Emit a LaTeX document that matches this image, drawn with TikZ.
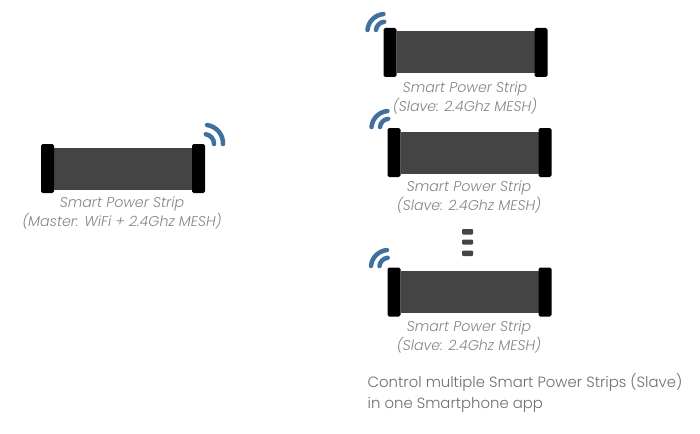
\documentclass[tikz,border=0pt]{standalone}
\usepackage{fontspec}
\setmainfont{Poppins}[UprightFont={* Light},ItalicFont={* Light Italic},BoldFont={* Medium}]
\definecolor{bodygrey}{HTML}{444444}
\definecolor{wifiblue}{HTML}{41709F}
\definecolor{capgrey}{HTML}{858585}
\definecolor{txtgrey}{HTML}{6E6E6E}
\tikzset{
  stripbody/.style={fill=bodygrey,draw=none},
  stripcap/.style={fill=black,draw=none,rounded corners=1.6pt},
  wifiarc/.style={draw=wifiblue,line width=4.5pt,line cap=round},
  dotbar/.style={fill=bodygrey,draw=none,rounded corners=1pt},
  striplabel/.style={font=\itshape\fontsize{14.2}{19}\selectfont,text=capgrey,align=center,inner sep=0pt},
  infolabel/.style={font=\fontsize{14.85}{21}\selectfont,text=txtgrey,align=left,inner sep=0pt,anchor=north west},
}
% #1 left x, #2 top y of the caps
\newcommand{\stripshape}[2]{%
  \fill[stripbody] (#1+13,#2+3.5) rectangle (#1+152,#2+45.5);
  \fill[stripcap] (#1,#2) rectangle (#1+13,#2+49);
  \fill[stripcap] (#1+151,#2) rectangle (#1+164,#2+49);
}
% slave signal, #1,#2 = centre of the arcs
\newcommand{\wifileft}[2]{%
  \draw[wifiarc] (#1-17.5,#2) arc[start angle=-175,end angle=-95,radius=17.5];
  \draw[wifiarc] (#1-9,#2) arc[start angle=-175,end angle=-95,radius=9];
}
\newcommand{\wifiright}[2]{%
  \draw[wifiarc] (#1+18.5,#2) arc[start angle=2,end angle=-82,radius=18.5];
  \draw[wifiarc] (#1+9.5,#2) arc[start angle=2,end angle=-82,radius=9.5];
}
\begin{document}
\begin{tikzpicture}[x=1pt,y=-1pt]
\useasboundingbox (0,0) rectangle (700,433);
\fill[white] (0,0) rectangle (700,433);
\stripshape{41}{144}
\wifiright{204.5}{144}
\node[striplabel] (master) at (122,213) {Smart Power Strip\\(Master: WiFi + 2.4Ghz MESH)};
\stripshape{383.5}{28}
\wifileft{385}{30}
\node[striplabel] (slaveA) at (465,98) {Smart Power Strip\\(Slave: 2.4Ghz MESH)};
\stripshape{387.5}{128}
\wifileft{389}{127}
\node[striplabel] (slaveB) at (469,197) {Smart Power Strip\\(Slave: 2.4Ghz MESH)};
\fill[dotbar] (462,229) rectangle (473,234.5);
\fill[dotbar] (462,239.5) rectangle (473,244.5);
\fill[dotbar] (462,250.5) rectangle (473,256);
\stripshape{387.5}{267.5}
\wifileft{388.5}{266}
\node[striplabel] (slaveC) at (469,336.5) {Smart Power Strip\\(Slave: 2.4Ghz MESH)};
\node[infolabel] (info) at (367.5,373) {Control multiple Smart Power Strips (Slave)\\in one Smartphone app};
\end{tikzpicture}
\end{document}
